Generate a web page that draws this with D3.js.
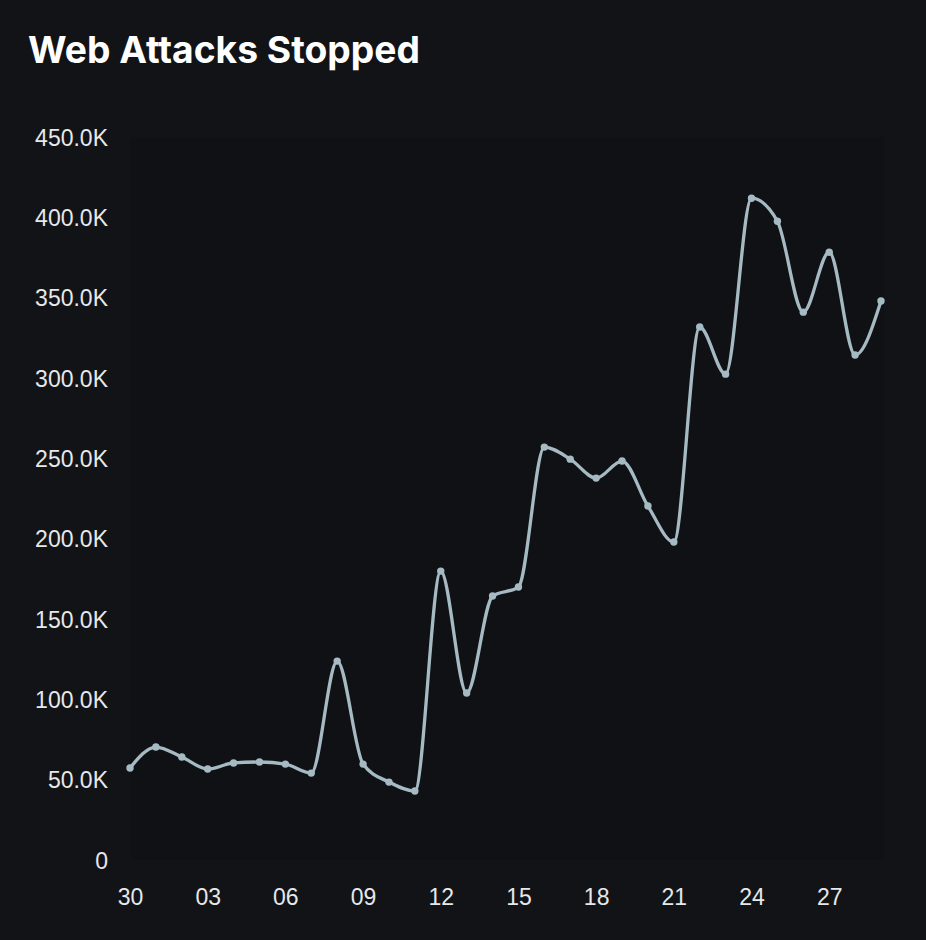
<!DOCTYPE html>
<html>
<head>
<meta charset="utf-8">
<script src="https://cdn.jsdelivr.net/npm/d3@7"></script>
<style>
  html, body { margin: 0; padding: 0; background: #111317; }
  svg { display: block; }
</style>
</head>
<body>
<div id="chart"></div>
<script>
let days = ["30", "01", "02", "03", "04", "05", "06", "07", "08", "09",
            "10", "11", "12", "13", "14", "15", "16", "17", "18", "19",
            "20", "21", "22", "23", "24", "25", "26", "27", "28", "29"];

let attacks = [57300, 70300, 64100, 56600, 60400, 61000, 59700, 54100, 123800, 59700,
               48500, 42900, 179800, 103900, 164300, 169900, 257000, 249500, 237700, 248300,
               220300, 197900, 331700, 302400, 411900, 397600, 341000, 378300, 314300, 347900];

let xTickLabels = ["30", "03", "06", "09", "12", "15", "18", "21", "24", "27"];
let yTicks = [0, 50000, 100000, 150000, 200000, 250000, 300000, 350000, 400000, 450000];

let width  = 926,
    height = 940;

let margin = { top: 137, right: 45, bottom: 80, left: 130 };

let svg = d3.select("#chart")
  .append("svg")
    .attr("width", width)
    .attr("height", height);

svg.append("rect")
    .attr("width", width)
    .attr("height", height)
    .attr("fill", "#111317");

let x = d3.scalePoint()
    .domain(days)
    .range([margin.left, width - margin.right]);

let y = d3.scaleLinear()
    .domain([0, 450000])
    .range([height - margin.bottom, margin.top]);

// faint plot area
svg.append("rect")
    .attr("x", margin.left)
    .attr("y", margin.top)
    .attr("width", width - margin.right - margin.left + 3)
    .attr("height", height - margin.bottom - margin.top)
    .attr("fill", "#0f1114");

// title
let title = svg.append("text")
    .attr("x", 28)
    .attr("y", 63)
    .attr("fill", "#ffffff")
    .attr("font-family", "Inter, 'Open Sans', sans-serif")
    .attr("font-weight", 700)
    .attr("font-size", 34)
    .text("Web Attacks Stopped");

let tw = title.node().getComputedTextLength();
if (tw > 0) title.attr("font-size", 34 * 392 / tw);

let labelFont = "'Liberation Sans', Arial, Helvetica, sans-serif";

// y axis
let yAxis = svg.append("g")
    .attr("transform", "translate(" + (margin.left - 22) + ",0)")
    .call(d3.axisLeft(y)
      .tickValues(yTicks)
      .tickSize(0)
      .tickPadding(0)
      .tickFormat(function(d) { return d === 0 ? "0" : (d / 1000).toFixed(1) + "K"; }));

yAxis.select(".domain").remove();
yAxis.selectAll("text")
    .attr("fill", "#e6e8ea")
    .attr("font-family", labelFont)
    .attr("font-size", 23)
    .attr("dy", "0.36em");

// x axis
let xAxis = svg.append("g")
    .attr("transform", "translate(0," + (height - margin.bottom) + ")")
    .call(d3.axisBottom(x)
      .tickValues(xTickLabels)
      .tickSize(0)
      .tickPadding(0));

xAxis.select(".domain").remove();
xAxis.selectAll("text")
    .attr("fill", "#e6e8ea")
    .attr("font-family", labelFont)
    .attr("font-size", 23)
    .attr("y", 45)
    .attr("dy", 0);

// line
let line = d3.line()
    .curve(d3.curveMonotoneX)
    .x(function(d, i) { return x(days[i]); })
    .y(function(d) { return y(d); });

svg.append("path")
    .datum(attacks)
    .attr("d", line)
    .attr("fill", "none")
    .attr("stroke", "#a6bac4")
    .attr("stroke-width", 3.3)
    .attr("stroke-linejoin", "round")
    .attr("stroke-linecap", "round");

svg.selectAll(".dot")
    .data(attacks)
    .enter()
    .append("circle")
      .attr("class", "dot")
      .attr("cx", function(d, i) { return x(days[i]); })
      .attr("cy", function(d) { return y(d); })
      .attr("r", 3.7)
      .attr("fill", "#a6bac4");
</script>
</body>
</html>
